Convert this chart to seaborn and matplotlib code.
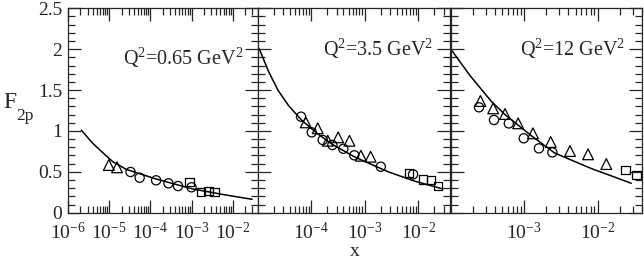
import matplotlib
matplotlib.use("Agg")
import matplotlib.pyplot as plt
import matplotlib.ticker as mticker
import seaborn as sns

# ---- data ----
q2_labels = [r"Q$^2$=0.65 GeV$^2$", r"Q$^2$=3.5 GeV$^2$", r"Q$^2$=12 GeV$^2$"]
x_limits = [(1e-6, 0.04), (1e-5, 0.04), (1e-4, 0.04)]
x_major = [[1e-6, 1e-5, 1e-4, 1e-3, 1e-2], [1e-4, 1e-3, 1e-2], [1e-3, 1e-2]]
y_ticks = [0, 0.5, 1, 1.5, 2, 2.5]
y_ticklabels = ["0", "0.5", "1", "1.5", "2", "2.5"]

# Q2 = 0.65 GeV2
curve_x_065 = [2.1e-6, 4.0e-6, 7.0e-6, 1.22e-5, 2.6e-5, 1.38e-4, 1.07e-3, 6.9e-3, 2.96e-2]
curve_f_065 = [1.01, 0.848, 0.734, 0.624, 0.530, 0.412, 0.290, 0.216, 0.164]
circ_x_065 = [3.3e-5, 5.5e-5, 1.38e-4, 2.75e-4, 4.7e-4, 1.0e-3]
circ_f_065 = [0.498, 0.428, 0.396, 0.359, 0.326, 0.311]
tri_x_065 = [9.8e-6, 1.55e-5]
tri_f_065 = [0.583, 0.555]
sq_x_065 = [8.9e-4, 1.71e-3, 2.57e-3, 3.6e-3]
sq_f_065 = [0.379, 0.253, 0.269, 0.253]

# Q2 = 3.5 GeV2
curve_x_35 = [1.07e-5, 1.6e-5, 2.4e-5, 3.8e-5, 6.7e-5, 1.3e-4, 2.43e-4, 6.6e-4, 2.75e-3, 8.7e-3, 2.9e-2]
curve_f_35 = [2.01, 1.73, 1.50, 1.31, 1.13, 0.97, 0.84, 0.68, 0.50, 0.385, 0.29]
circ_x_35 = [6.5e-5, 1.03e-4, 1.65e-4, 2.5e-4, 4.0e-4, 6.4e-4, 2.0e-3, 8.0e-3]
circ_f_35 = [1.174, 0.983, 0.889, 0.828, 0.782, 0.702, 0.562, 0.469]
tri_x_35 = [7.96e-5, 1.33e-4, 2.05e-4, 3.2e-4, 5.2e-4, 8.5e-4, 1.29e-3]
tri_f_35 = [1.105, 1.032, 0.88, 0.922, 0.88, 0.697, 0.685]
sq_x_35 = [6.7e-3, 1.23e-2, 1.72e-2, 2.35e-2]
sq_f_35 = [0.482, 0.408, 0.40, 0.326]

# Q2 = 12 GeV2
curve_x_12 = [1.03e-4, 1.83e-4, 3.6e-4, 5.5e-4, 1.26e-3, 2.6e-3, 8.2e-3, 2.86e-2]
curve_f_12 = [1.99, 1.68, 1.36, 1.20, 0.94, 0.73, 0.54, 0.36]
circ_x_12 = [2.44e-4, 3.9e-4, 6.2e-4, 9.9e-4, 1.59e-3, 2.42e-3]
circ_f_12 = [1.289, 1.134, 1.092, 0.910, 0.787, 0.738]
tri_x_12 = [2.55e-4, 3.8e-4, 5.5e-4, 8.3e-4, 1.32e-3, 2.3e-3, 4.2e-3, 7.4e-3, 1.31e-2]
tri_f_12 = [1.366, 1.276, 1.207, 1.093, 0.971, 0.864, 0.754, 0.714, 0.595]
sq_x_12 = [2.39e-2, 3.37e-2]
sq_f_12 = [0.522, 0.461]

panels = [
    (curve_x_065, curve_f_065, circ_x_065, circ_f_065, tri_x_065, tri_f_065, sq_x_065, sq_f_065),
    (curve_x_35, curve_f_35, circ_x_35, circ_f_35, tri_x_35, tri_f_35, sq_x_35, sq_f_35),
    (curve_x_12, curve_f_12, circ_x_12, circ_f_12, tri_x_12, tri_f_12, sq_x_12, sq_f_12),
]

sns.set_style("ticks")
plt.rcParams["font.family"] = ["Liberation Serif", "DejaVu Serif"]
plt.rcParams["mathtext.fontset"] = "custom"
plt.rcParams["mathtext.rm"] = "Liberation Serif"
plt.rcParams["mathtext.it"] = "Liberation Serif:italic"
plt.rcParams["font.size"] = 14

W, H = 644, 259
fig = plt.figure(figsize=(W / 100, H / 100), dpi=100)
edges = [68, 257.5, 450.5, 642]
y_bot, y_top = 212.7, 8.3
text_pos = [(0.292, 0.724), (0.341, 0.768), (0.363, 0.768)]

for i, (cx, cf, ox, of, tx, tf, sx, sf) in enumerate(panels):
    ax = fig.add_axes([edges[i] / W, 1 - y_bot / H, (edges[i + 1] - edges[i]) / W, (y_bot - y_top) / H])
    ax.set_xscale("log")
    ax.set_xlim(*x_limits[i])
    ax.set_ylim(0, 2.5)

    sns.lineplot(x=cx, y=cf, ax=ax, color="k", linewidth=1.1, estimator=None, sort=False)
    sns.scatterplot(x=ox, y=of, ax=ax, marker="o", s=44, facecolors="none",
                    edgecolor="k", linewidth=0.9, legend=False, zorder=3)
    sns.scatterplot(x=tx, y=tf, ax=ax, marker="^", s=60, facecolors="none",
                    edgecolor="k", linewidth=0.9, legend=False, zorder=3)
    sns.scatterplot(x=sx, y=sf, ax=ax, marker="s", s=36, facecolors="none",
                    edgecolor="k", linewidth=0.9, legend=False, zorder=3)

    ax.set_xticks(x_major[i])
    ax.xaxis.set_major_formatter(mticker.LogFormatterSciNotation())
    ax.xaxis.set_minor_locator(mticker.LogLocator(base=10, subs=range(2, 10), numticks=20))
    ax.xaxis.set_minor_formatter(mticker.NullFormatter())
    ax.set_yticks(y_ticks)
    ax.yaxis.set_minor_locator(mticker.MultipleLocator(0.1))
    if i == 0:
        ax.set_yticklabels(y_ticklabels)
    else:
        ax.set_yticklabels([])
    ax.tick_params(which="both", direction="in", top=True, right=True, width=0.9, labelsize=14)
    ax.tick_params(which="major", length=9.5)
    ax.tick_params(which="minor", length=4.8)
    ax.tick_params(axis="x", which="major", pad=6.5)
    ax.tick_params(axis="y", which="major", pad=4)
    for sp in ax.spines.values():
        sp.set_linewidth(0.9)
        sp.set_visible(True)
    ax.set_xlabel("")
    ax.set_ylabel("")
    ax.text(text_pos[i][0], text_pos[i][1], q2_labels[i], transform=ax.transAxes,
            ha="left", va="baseline", fontsize=14.5)

fig.text(3 / W, 1 - 108 / H, "F", ha="left", va="baseline", fontsize=17)
fig.text(16 / W, 1 - 120 / H, "2p", ha="left", va="baseline", fontsize=12.5)
fig.text(354.5 / W, 1 - 256.5 / H, "x", ha="center", va="baseline", fontsize=14)

fig.savefig("out.png", dpi=100)
